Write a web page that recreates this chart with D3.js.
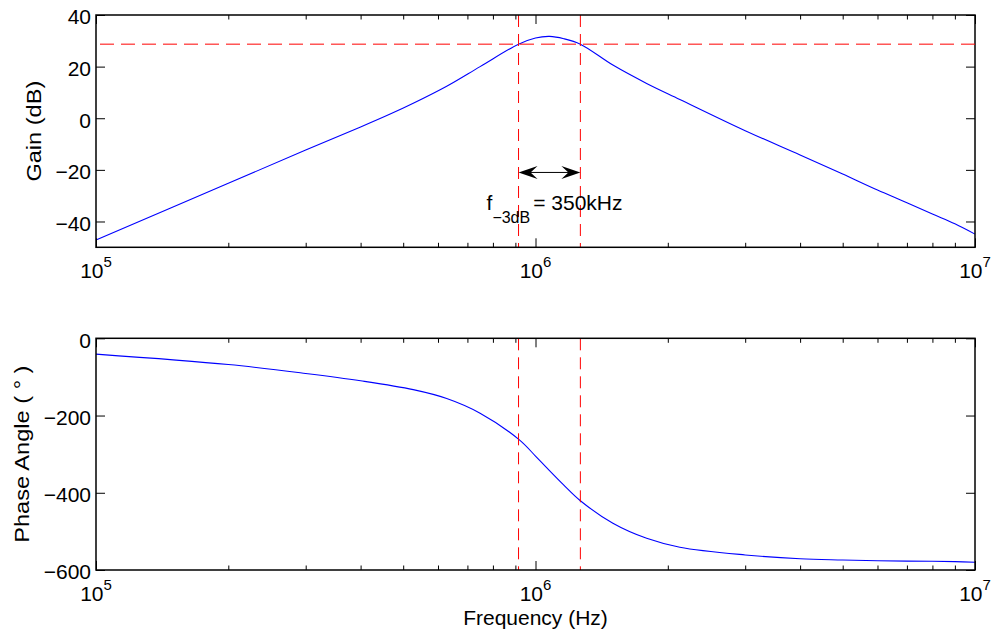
<!DOCTYPE html>
<html><head><meta charset="utf-8">
<script src="https://cdn.jsdelivr.net/npm/d3@7"></script>
<style>
body{margin:0;background:#fff;}
svg{display:block;font-family:"Liberation Sans",Arial,Helvetica,sans-serif;}
</style></head><body>
<svg id="chart" width="995" height="635"></svg>
<script>
// Measured magnitude response
const gainFreq = [1e5, 2e5, 3e5, 4e5, 4.67e5, 5.27e5, 6.28e5, 7.48e5, 9.15e5, 1.0e6, 1.077e6, 1.16e6, 1.265e6, 1.5e6, 1.79e6, 2.13e6, 3e6, 4e6, 5e6, 6e6, 7e6, 8e6, 9e6, 1e7];
const gainDb = [-47.2, -25.2, -12.3, -3.4, 1.6, 5.8, 12.4, 20.0, 28.7, 31.1, 31.7, 30.8, 28.7, 20.6, 13.5, 7.3, -4.8, -14.2, -21.6, -27.8, -32.7, -37.1, -40.9, -44.9];

// Measured phase response
const phaseFreq = [1e5, 2e5, 3e5, 4e5, 5.27e5, 6.28e5, 7.48e5, 9.19e5, 1e6, 1.06e6, 1.157e6, 1.263e6, 1.5e6, 1.79e6, 2.13e6, 3e6, 4e6, 5e6, 6e6, 7e6, 8e6, 9e6, 1e7];
const phaseDeg = [-41, -68, -91, -110, -133, -156, -194, -263, -305, -335, -379, -420, -479, -518, -541, -561, -571, -574, -576, -577, -577.5, -578.4, -580];

// Bandwidth markers
const peakDb = 31.7;
const cutoffDb = peakDb - 3;
const bandEdges = [0.915e6, 1.265e6];
const bandwidthText = "350kHz";

// Axis ticks
const freqDecades = [1e5, 1e6, 1e7];
const gainTicks = [-40, -20, 0, 20, 40];
const phaseTicks = [-600, -400, -200, 0];

const svg = d3.select("#chart");
const left = 96, right = 975;
const x = d3.scaleLog().domain([1e5, 1e7]).range([left, right]);

const panels = [
  {top: 15, bottom: 247.3, domain: [-50, 40], ticks: gainTicks, label: "Gain (dB)", labelX: 41,
   fx: gainFreq, fy: gainDb},
  {top: 338.3, bottom: 570, domain: [-600, 0], ticks: phaseTicks, label: "Phase Angle ( \u00B0 )", labelX: 29,
   fx: phaseFreq, fy: phaseDeg}
];

const majorLen = 9, minorLen = 4.5;
const minorTicks = x.ticks().filter(v => !freqDecades.includes(v));

panels.forEach(p => {
  const y = d3.scaleLinear().domain(p.domain).range([p.bottom, p.top]);
  p.y = y;
  const g = svg.append("g");

  // response curve
  const pts = p.fx.map((f, k) => [f, p.fy[k]]);
  g.append("path")
    .attr("d", d3.line().x(d => x(d[0])).y(d => y(d[1])).curve(d3.curveCatmullRom.alpha(0.5))(pts))
    .attr("fill", "none").attr("stroke", "#0000ff").attr("stroke-width", 1.1);

  // band edge markers
  bandEdges.forEach(f => {
    g.append("line")
      .attr("x1", x(f)).attr("x2", x(f)).attr("y1", p.top).attr("y2", p.bottom)
      .attr("stroke", "#ff0000").attr("stroke-width", 1).attr("stroke-dasharray", "12,7");
  });

  // ticks (inward, on all four sides)
  const addAxis = (ax, tr) => {
    const a = g.append("g").attr("transform", tr).call(ax.tickFormat(""));
    a.select(".domain").remove();
    a.selectAll("line").attr("stroke", "#000").attr("stroke-width", 1);
    a.selectAll("text").remove();
  };
  addAxis(d3.axisBottom(x).tickValues(freqDecades).tickSize(-majorLen), `translate(0,${p.bottom})`);
  addAxis(d3.axisBottom(x).tickValues(minorTicks).tickSize(-minorLen), `translate(0,${p.bottom})`);
  addAxis(d3.axisTop(x).tickValues(freqDecades).tickSize(-majorLen), `translate(0,${p.top})`);
  addAxis(d3.axisTop(x).tickValues(minorTicks).tickSize(-minorLen), `translate(0,${p.top})`);
  addAxis(d3.axisLeft(y).tickValues(p.ticks).tickSize(-majorLen), `translate(${left},0)`);
  addAxis(d3.axisRight(y).tickValues(p.ticks).tickSize(-majorLen), `translate(${right},0)`);

  // box
  g.append("rect")
    .attr("x", left).attr("y", p.top).attr("width", right - left).attr("height", p.bottom - p.top)
    .attr("fill", "none").attr("stroke", "#000").attr("stroke-width", 1.5);

  // y tick labels
  g.selectAll(".ylab").data(p.ticks).join("text")
    .attr("x", left - 5).attr("y", d => y(d)).attr("dy", "0.45em")
    .attr("text-anchor", "end").attr("font-size", 21)
    .text(d => d3.format("d")(d).replace("-", "\u2212"));

  // x tick labels as powers of ten
  freqDecades.forEach(f => {
    const t = g.append("text")
      .attr("x", x(f)).attr("y", p.bottom + 31)
      .attr("text-anchor", "middle").attr("font-size", 21);
    t.append("tspan").text("10");
    t.append("tspan").attr("font-size", 15).attr("dy", -11).text(Math.round(Math.log10(f)));
  });

  // y axis title
  g.append("text")
    .attr("transform", `translate(${p.labelX},${(p.top + p.bottom) / 2}) rotate(-90) scale(1.18,1)`)
    .attr("text-anchor", "middle").attr("font-size", 20).text(p.label);
});

// -3 dB level line on the gain plot
const gp = panels[0];
svg.append("line")
  .attr("x1", right).attr("x2", left).attr("y1", gp.y(cutoffDb)).attr("y2", gp.y(cutoffDb))
  .attr("stroke", "#ff0000").attr("stroke-width", 1).attr("stroke-dasharray", "14,7");

// bandwidth arrow
const ay = gp.y(-21);
const ax1 = x(bandEdges[0]), ax2 = x(bandEdges[1]);
svg.append("line").attr("x1", ax1 + 8).attr("x2", ax2 - 8).attr("y1", ay).attr("y2", ay)
  .attr("stroke", "#000").attr("stroke-width", 1);
const headL = 19, headW = 6.5, headN = 12;
svg.append("path")
  .attr("d", `M${ax1},${ay}L${ax1 + headL},${ay - headW}L${ax1 + headN},${ay}L${ax1 + headL},${ay + headW}Z`)
  .attr("fill", "#000");
svg.append("path")
  .attr("d", `M${ax2},${ay}L${ax2 - headL},${ay - headW}L${ax2 - headN},${ay}L${ax2 - headL},${ay + headW}Z`)
  .attr("fill", "#000");

// bandwidth label
const lab = svg.append("text").attr("x", ax1 - 32).attr("y", gp.y(-35.6)).attr("font-size", 21);
lab.append("tspan").text("f");
lab.append("tspan").attr("font-size", 16).attr("dy", 13).text("\u22123dB");
lab.append("tspan").attr("dy", -13).attr("dx", 3).text("= " + bandwidthText);

// x axis title
svg.append("text")
  .attr("x", (left + right) / 2).attr("y", 625)
  .attr("text-anchor", "middle").attr("font-size", 21).text("Frequency (Hz)");
</script>
</body></html>
